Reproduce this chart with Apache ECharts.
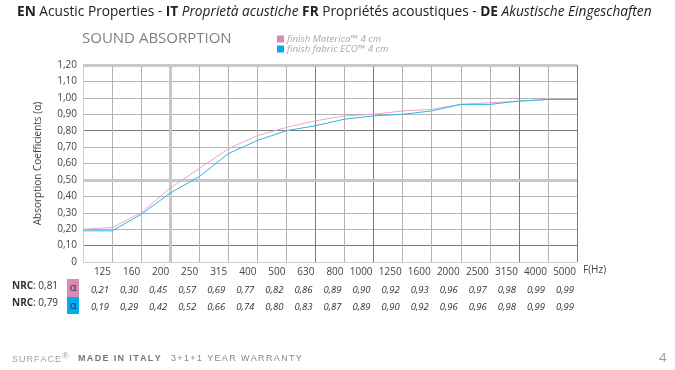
<!DOCTYPE html>
<html>
<head>
<meta charset="utf-8">
<script src="https://cdn.jsdelivr.net/npm/echarts@6/dist/echarts.min.js"></script>
<style>
html,body{margin:0;padding:0;background:#fff;}
#chart{width:675px;height:370px;}
</style>
</head>
<body>
<div id="chart"></div>
<script>
// ---- data ----
var frequencies = ['100','125','160','200','250','315','400','500','630','800','1000','1250','1600','2000','2500','3150','4000','5000'];
var matericaValues = [0.20,0.21,0.30,0.45,0.57,0.69,0.77,0.82,0.86,0.89,0.90,0.92,0.93,0.96,0.97,0.98,0.99,0.99];
var ecoValues      = [0.19,0.19,0.29,0.42,0.52,0.66,0.74,0.80,0.83,0.87,0.89,0.90,0.92,0.96,0.96,0.98,0.99,0.99];
var seriesNames = ['finish Materica™ 4 cm','finish fabric ECO™ 4 cm'];
var nrcLabels = ['0,81','0,79'];

function fmt(v){ return v === 0 ? '0' : v.toFixed(2).replace('.', ','); }

var FONT = '"Open Sans", "Noto Sans", sans-serif';
var FOOT = '"Liberation Sans", Arial, sans-serif';
var normal = '#b4b4b4', dark = '#7a7a7a', light = '#d0d0d0';
// per-line colours of the grid
var yLineColors = [light, dark, normal, normal, normal, light, normal, normal, dark, normal, normal, normal, light];
var xLineColors = [light, normal, normal, light, normal, normal, normal, normal, dark, normal, dark, normal, normal, normal, normal, dark, normal, dark];

// letter-spaced footer text via rich tokens
function spaced(str, tok){
  return str.split('').map(function(c){ return '{' + tok + '|' + c + '}'; }).join('');
}

var chart = echarts.init(document.getElementById('chart'), null, {renderer:'canvas'});

function tableAxis(values, offset){
  return {
    type:'category', data: frequencies, boundaryGap:false, position:'bottom', offset: offset,
    axisLine:{show:false}, axisTick:{show:false}, splitLine:{show:false},
    axisLabel:{interval:0, align:'right', padding:[0,3,0,0], margin:3,
      fontFamily:FONT, fontSize:9.5, fontStyle:'italic', color:'#333',
      formatter:function(v, i){ return i === 0 ? '' : fmt(values[i]); }}
  };
}

var option = {
  animation:false,
  textStyle:{fontFamily:FONT},
  title:{
    left:17, top:5, padding:0,
    text:'{b|EN} Acustic Properties - {b|IT} {i|Proprietà acustiche} {b|FR} Propriétés acoustiques - {b|DE} {i|Akustische Eingeschaften}',
    textStyle:{fontFamily:FONT, fontSize:13.7, fontWeight:'normal', color:'#222',
      rich:{
        b:{fontFamily:FONT, fontSize:13.7, fontWeight:'bold', color:'#222'},
        i:{fontFamily:FONT, fontSize:13.7, fontStyle:'italic', color:'#222'}
      }}
  },
  legend:{
    left:272, top:29, orient:'vertical', icon:'rect', itemWidth:7, itemHeight:7, itemGap:0,
    data: seriesNames,
    textStyle:{fontFamily:FONT, fontSize:9.7, fontStyle:'italic', color:'#a8a8a8', padding:[0,0,0,-2]}
  },
  grid:{left:83, right:98, top:65, bottom:108},
  xAxis:[
    {
      type:'category', data: frequencies, boundaryGap:false,
      name:'F(Hz)', nameLocation:'end', nameGap:6,
      nameTextStyle:{fontFamily:FONT, fontSize:10, color:'#444', verticalAlign:'top', padding:[3,0,0,0]},
      axisLine:{show:true, lineStyle:{color:light}}, axisTick:{show:false},
      axisLabel:{interval:0, align:'right', padding:[0,1,0,0], margin:5,
        fontFamily:FONT, fontSize:10, color:'#444',
        formatter:function(v, i){ return i === 0 ? '' : v; }},
      splitLine:{show:true, interval:0, lineStyle:{color:xLineColors, width:1}}
    },
    tableAxis(matericaValues, 20),
    tableAxis(ecoValues, 37)
  ],
  yAxis:{
    type:'value', min:0, max:1.2, interval:0.1,
    name:'Absorption Coefficients (α)', nameLocation:'middle', nameGap:40,
    nameTextStyle:{fontFamily:FONT, fontSize:10, color:'#444'},
    axisLine:{show:true, lineStyle:{color:light}}, axisTick:{show:false},
    axisLabel:{margin:6, fontFamily:FONT, fontSize:10, color:'#444', formatter:fmt},
    splitLine:{show:true, lineStyle:{color:yLineColors, width:1}}
  },
  series:[
    {
      name: seriesNames[0], type:'line', data: matericaValues, xAxisIndex:0,
      showSymbol:false, symbol:'none',
      itemStyle:{color:'#d98cb3'}, lineStyle:{color:'#e8a6c6', width:1},
      markLine:{
        silent:true, symbol:'none', label:{show:false}, z:1,
        lineStyle:{color:'#c8c8c8', width:3, type:'solid'},
        data:[{yAxis:0.5},{yAxis:1.2},{xAxis:'200'}]
      },
      z:3
    },
    {
      name: seriesNames[1], type:'line', data: ecoValues, xAxisIndex:0,
      showSymbol:false, symbol:'none',
      itemStyle:{color:'#00aeef'}, lineStyle:{color:'#33b2e8', width:1},
      z:4
    }
  ],
  graphic:[
    {type:'text', left:82, top:31, style:{text:'SOUND ABSORPTION', fontFamily:FONT, fontSize:15, fill:'#7f7f7f'}},
    {type:'text', left:12, top:281, style:{text:'{b|NRC}: ' + nrcLabels[0], fontFamily:FONT, fontSize:10, fill:'#333', rich:{b:{fontFamily:FONT, fontSize:10, fontWeight:'bold', fill:'#333'}}}},
    {type:'text', left:12, top:298, style:{text:'{b|NRC}: ' + nrcLabels[1], fontFamily:FONT, fontSize:10, fill:'#333', rich:{b:{fontFamily:FONT, fontSize:10, fontWeight:'bold', fill:'#333'}}}},
    {type:'rect', shape:{x:67, y:279, width:12, height:18}, style:{fill:'#d98cb3'}},
    {type:'rect', shape:{x:67, y:297, width:12, height:17}, style:{fill:'#00aeef'}},
    {type:'text', x:73, y:288, style:{text:'α', fontFamily:FONT, fontSize:11, fill:'#333', align:'center', verticalAlign:'middle'}},
    {type:'text', x:73, y:305.5, style:{text:'α', fontFamily:FONT, fontSize:11, fill:'#333', align:'center', verticalAlign:'middle'}},
    {type:'text', left:12, top:352, style:{text: spaced('SURFACE','t') + '{s|®}', fontFamily:FOOT, fontSize:9, fill:'#a0a0a0',
      rich:{t:{fontFamily:FOOT, fontSize:9, fill:'#a0a0a0', padding:[0,1,0,0]}, s:{fontFamily:FOOT, fontSize:9, verticalAlign:'top', padding:[0,0,6,0], fill:'#a0a0a0'}}}},
    {type:'text', left:78, top:354, style:{text: spaced('MADE IN ITALY','t'), fontFamily:FOOT, fontSize:9, fill:'#777',
      rich:{t:{fontFamily:FOOT, fontSize:9, fontWeight:'bold', fill:'#777', padding:[0,1.35,0,0]}}}},
    {type:'text', left:171, top:354, style:{text: spaced('3+1+1 YEAR WARRANTY','t'), fontFamily:FOOT, fontSize:9, fill:'#888',
      rich:{t:{fontFamily:FOOT, fontSize:9, fill:'#888', padding:[0,1.35,0,0]}}}},
    {type:'text', left:659, top:352, style:{text:'4', fontFamily:FONT, fontSize:13, fill:'#9a9a9a'}}
  ]
};
chart.setOption(option);
</script>
</body>
</html>
